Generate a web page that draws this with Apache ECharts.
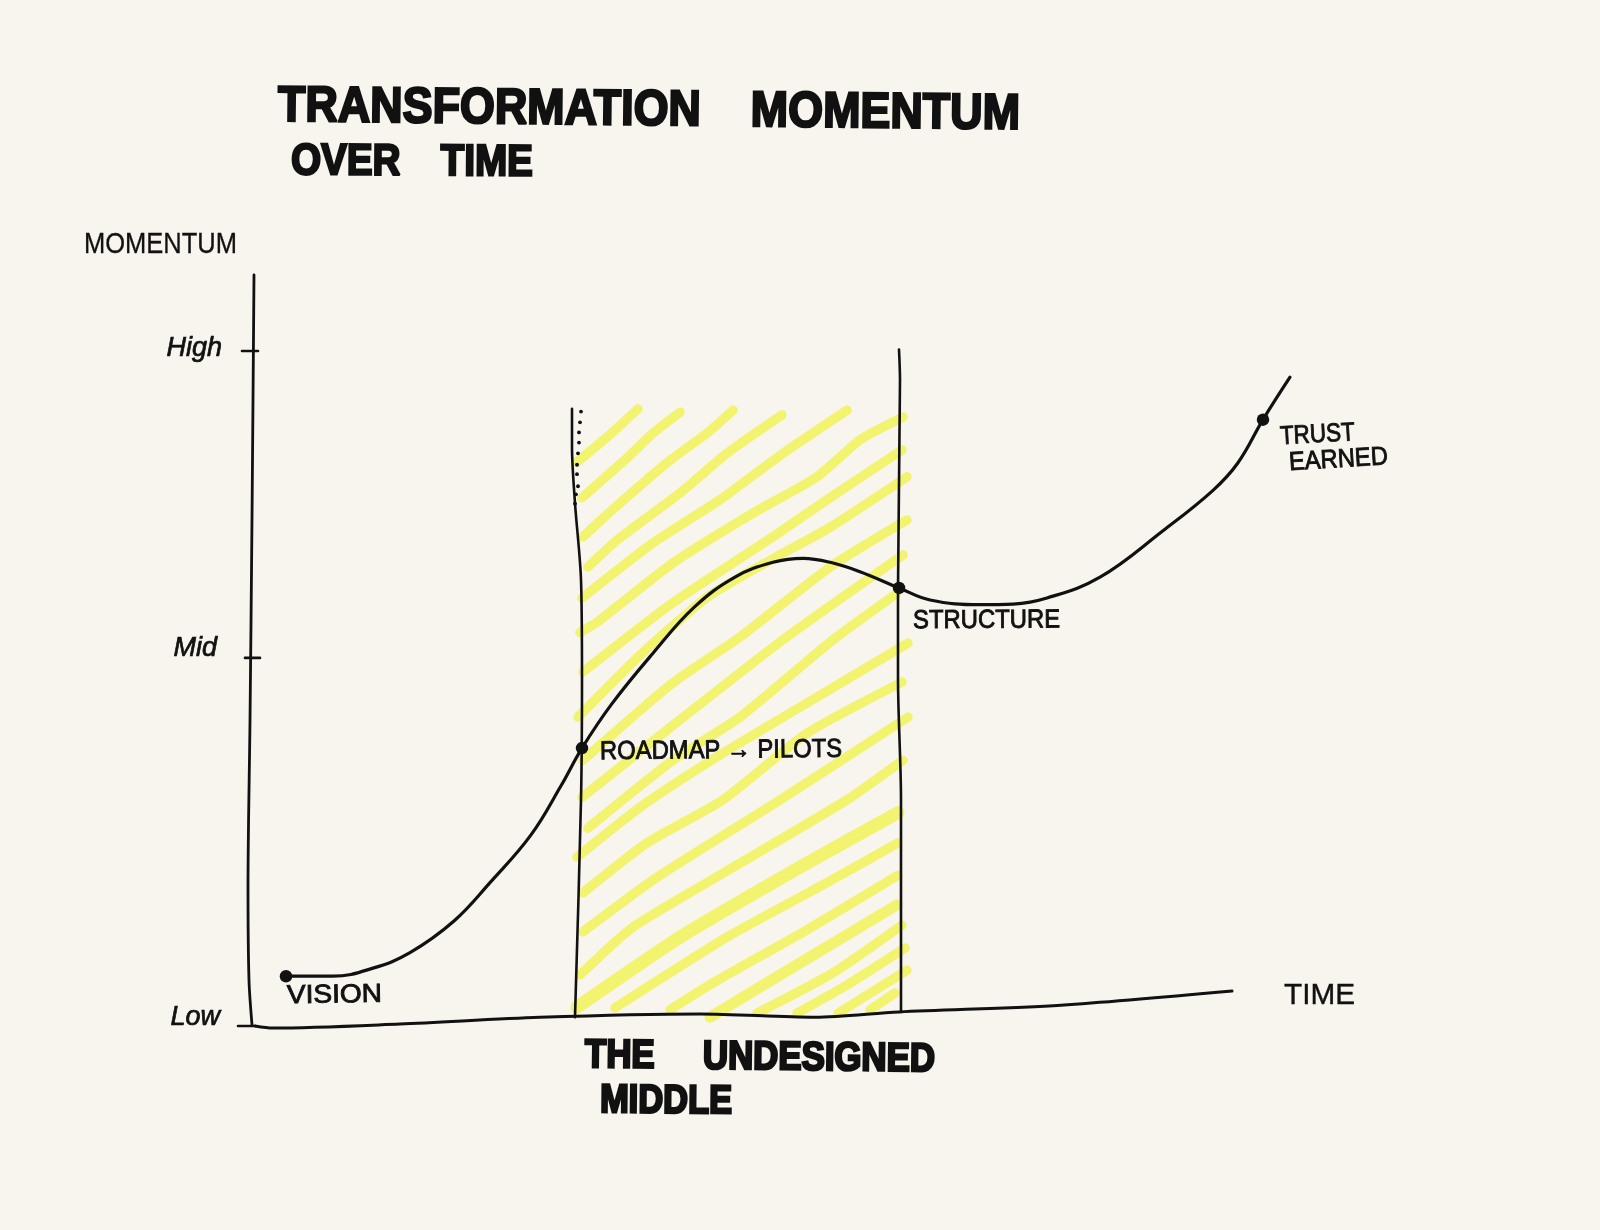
<!DOCTYPE html>
<html><head><meta charset="utf-8">
<script src="https://cdn.jsdelivr.net/npm/echarts@6/dist/echarts.min.js"></script>
<style>html,body{margin:0;padding:0;background:#f8f5ee}#c{width:1600px;height:1230px}</style>
</head><body><div id="c"></div>
<script>
// ---- values (x: time, y: momentum, Low = 0, High = 100) ----
const tickValues = [0, 54.4, 100];
const tickLabels = {0: 'Low', 54.4: 'Mid', 100: 'High'};
const momentumCurve = [[3.6,7.1],[8.3,7.1],[12.3,8.3],[16,10.6],[20.4,15.3],[24,21],[28.1,28.1],[31.1,35.4],[33.2,41],[36.2,47.6],[40.3,55.1],[44.4,61.9],[48.5,66.4],[52.3,68.6],[55.3,69.2],[58.3,68.5],[61,67.2],[64.9,64.8],[68,63],[73,62.3],[76.3,62.4],[79.7,63.3],[85,66.4],[91.3,73.3],[96.3,79.3],[98.8,83.4],[101.3,89.8],[104,96.1]];
const milestones = [[3.6,7.1],[33.2,41],[64.9,64.8],[101.3,89.8]];
const yAxisStroke = [[0.4,111.3],[0.2,75],[0,45],[-0.2,20.4],[-0.1,6.5],[0.2,-0.1]];
const xAxisStroke = [[0.5,-0.3],[2.3,-0.6],[15,0],[29,1],[45,1.5],[56.5,1],[64.9,1.8],[81.1,2.8],[98.2,4.9]];
const tickStrokes = [[[-0.8,100],[0.8,100]],[[-0.5,54.4],[1,54.4]],[[-1.2,-0.3],[0.5,-0.3]]];
const middleStart = [[32.2,91.4],[32.2,85.7],[32.5,77.4],[33.1,66],[33.2,51.4],[33.1,33.3],[32.5,1]];
const middleEnd = [[64.9,100.2],[65,95.7],[64.8,64.8],[64.8,51.4],[65.1,33.3],[65.1,1.8]];
const dottedEdge = [[33.1,91],[33,89.4],[32.9,87.9],[32.9,86.4],[32.8,84.8],[32.7,83.1],[32.7,81.7],[32.8,79.9],[32.6,78.7],[32.5,77.3]];
const hatchStrokes = [
 [[32.7,83.5],[35.7,87.2],[38.8,91.4]],
 [[33.2,78.2],[37.7,84.1],[40.3,87.8],[43,90.9]],
 [[33.3,72.4],[36,76.1],[41.7,83.4],[45.7,87.8],[48.3,91.2]],
 [[33.8,67.9],[36.7,71.9],[43,78.9],[47.7,84.8],[53.2,90.5]],
 [[33.2,63.3],[40.3,71.5],[47,77.9],[53.3,84.8],[59.7,91.2]],
 [[33,58.2],[34.7,59.7],[42.3,68.5],[50.3,75.9],[56.7,81.3],[61,86.8],[65.3,90.2]],
 [[33.3,52.3],[42.3,62.6],[52.3,72.4],[57.7,77.9],[65.2,85.3]],
 [[32.8,45.6],[39,54.8],[45.7,63.4],[52,68.9],[58,73.8],[65.7,81.3]],
 [[33.3,39.2],[42.3,50.7],[49,57.5],[58,67.9],[65.7,74.9]],
 [[33.2,33.7],[43,45.2],[53.3,57.1],[65.3,69.7]],
 [[33.8,29.1],[42.3,39.2],[49,45.6],[58.3,57.1],[64.7,64]],
 [[32.7,24.8],[39,32.2],[46.7,39.7],[55.7,47.7],[65.8,56.6]],
 [[33.3,19.5],[39.7,26.9],[47.3,33.3],[55.7,43.2],[65.2,50.8]],
 [[33.3,13.7],[40.7,21.8],[53,33.3],[65.8,45.6]],
 [[33,7.3],[38.3,14.4],[47.3,22.4],[59.7,33.3],[65.3,39.2]],
 [[32.7,2.5],[43,12.9],[55.7,23.9],[64.8,31.4]],
 [[36.5,2.4],[47.7,12.9],[57.7,21],[64.8,26.9]],
 [[42,2.1],[46.3,6.1],[55.7,14],[64.8,22.1]],
 [[46,1],[51,5.5],[64.7,17.7]],
 [[50.7,1.6],[58.3,7.6],[65.2,14.7]],
 [[54.7,1.6],[59.7,5.8],[65.5,11.3]],
 [[58.8,1.6],[65.7,8]],
 [[62,2.1],[64.5,4.6]]
];
const titleLines = ['TRANSFORMATION    MOMENTUM', 'OVER   \u2009TIME'];
const middleCaption = ['THE     UNDESIGNED', 'MIDDLE'];
const axisNames = ['MOMENTUM', 'TIME'];
const milestoneNames = ['VISION', 'ROADMAP \u2192 PILOTS', 'STRUCTURE', 'TRUST', 'EARNED'];

// ---- presentation ----
const INK = '#111111', YELLOW = '#f2f36f';
const NARROW = '"Liberation Sans Narrow","Liberation Sans",sans-serif';
const measure = document.createElement('canvas').getContext('2d');
function txt(text, x, y, width, size, weight, rot, stroke) {
  const font = `${weight} ${size}px ${NARROW}`;
  measure.font = font;
  return {type:'text', x, y, rotation: rot, scaleX: width / measure.measureText(text).width, silent:true, z:20,
    style:{text, x:0, y:0, font, fill:INK, stroke:INK, lineWidth:stroke, lineJoin:'round', textAlign:'left', textVerticalAlign:'middle'}};
}
const inkLine = (name, data, width, smooth) => ({type:'line', name, data, showSymbol:false, silent:true, smooth:smooth||false, clip:false, z:5,
  lineStyle:{color:INK, width, cap:'round', join:'round'}});
const wide = {15:13, 18:11};
const labelStyle = {fontFamily:NARROW, fontStyle:'italic', fontSize:27, color:INK, textBorderColor:INK, textBorderWidth:0.7};
const series = [
  ...hatchStrokes.map((d,i)=>({type:'line', name:'hatch'+i, data:d, showSymbol:false, silent:true, smooth:0.2, clip:false, z:1,
     lineStyle:{color:YELLOW, width:wide[i]||9.5, cap:'round', join:'round'}})),
  inkLine('y axis', yAxisStroke, 2.8, 0.3),
  inkLine('x axis', xAxisStroke, 3, 0.3),
  ...tickStrokes.map((d,i)=>inkLine('tick'+i, d, 2.6)),
  inkLine('middle start', middleStart, 2.6, 0.3),
  inkLine('middle end', middleEnd, 2.6, 0.3),
  {type:'scatter', name:'dotted edge', data:dottedEdge, symbolSize:3.8, silent:true, z:6, itemStyle:{color:INK, opacity:1}},
  {...inkLine('momentum', momentumCurve, 3.2, 0.4), z:8},
  {type:'scatter', name:'milestones', data:milestones, symbolSize:12.5, silent:true, z:9, itemStyle:{color:INK, opacity:1}}
];
const chart = echarts.init(document.getElementById('c'), null, {renderer:'canvas'});
chart.setOption({
  animation:false, backgroundColor:'#f8f5ee',
  grid:{left:230, top:270.24, width:1070, height:787.41, containLabel:false},
  xAxis:{type:'value', min:-2, max:105, show:false, splitLine:{show:false}},
  yAxis:{type:'value', min:-5, max:112, splitLine:{show:false}, axisLine:{show:false}, axisTick:{show:false},
    axisLabel:{show:true, customValues:tickValues, margin:8, color:INK, fontFamily:NARROW, fontStyle:'italic', fontSize:27,
      formatter:v=>{const t=tickLabels[v]||''; return `{${t}|${t}}`;},
      rich:{
        High:{...labelStyle, padding:[0,0,6,0]},
        Mid:{...labelStyle, padding:[0,5,18,0]},
        Low:{...labelStyle, padding:[0,2,14,0]}
      }}},
  series,
  graphic:[
    txt(titleLines[0], 278, 107, 742, 50, 'bold', -0.011, 2.4),
    txt(titleLines[1], 291, 162, 242, 44, 'bold', -0.006, 2.4),
    txt(middleCaption[0], 585, 1056, 350, 40, 'bold', -0.012, 2.6),
    txt(middleCaption[1], 600, 1101, 132, 40, 'bold', -0.01, 2.6),
    txt(axisNames[0], 84, 245, 153, 30, 'normal', 0, 0.3),
    txt(axisNames[1], 1284, 996, 71, 30, 'normal', 0, 0.4),
    txt(milestoneNames[0], 287, 996, 95, 26, 'normal', 0.015, 0.9),
    txt(milestoneNames[1], 600, 752, 242, 26, 'normal', 0.01, 0.9),
    txt(milestoneNames[2], 913, 621, 147, 26, 'normal', 0.005, 0.9),
    txt(milestoneNames[3], 1280, 437, 75, 26, 'normal', 0.053, 0.9),
    txt(milestoneNames[4], 1289, 463, 99, 26, 'normal', 0.06, 0.9)
  ]
});
</script></body></html>
